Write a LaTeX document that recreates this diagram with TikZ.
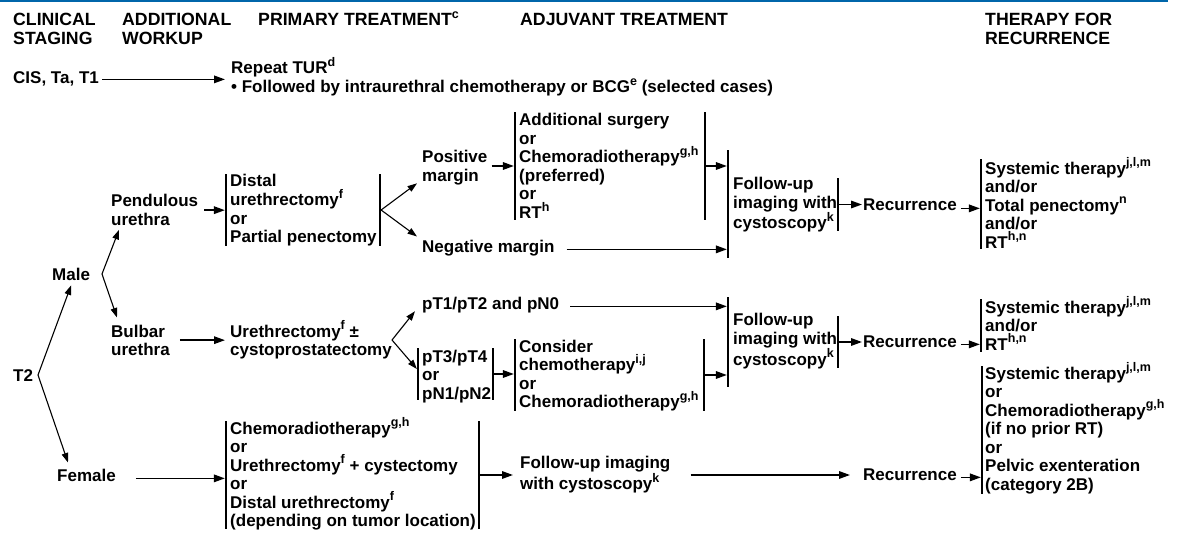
\documentclass[tikz,border=0pt]{standalone}
\usepackage{fontspec}
\setmainfont{Liberation Sans}
\usetikzlibrary{arrows.meta,calc}
\definecolor{nccnblue}{RGB}{0,102,170}
\newcommand\su[1]{\raisebox{0.42em}{\fontsize{12.5}{12.5}\selectfont #1}}
\begin{document}
\begin{tikzpicture}[x=1pt,y=-1pt,
  txt/.style={anchor=base west, inner sep=0pt, align=left, font=\bfseries\fontsize{17}{18.5}\selectfont},
  hdr/.style={anchor=base west, inner sep=0pt, align=left, font=\bfseries\fontsize{17.7}{19}\selectfont},
  brk/.style={fill=black, minimum width=2.2pt, minimum height=#1, inner sep=0pt, outer sep=0pt},
  arr/.style={line width=1.6pt, -{Triangle[length=11pt,width=7.5pt]}},
  darr/.style={line width=1.1pt, -{Triangle[length=9.5pt,width=6.5pt]}},
]
\useasboundingbox (0,0) rectangle (1180,540);
\fill[white] (0,0) rectangle (1180,540);
\draw[nccnblue, line width=2pt] (0,1) -- (1168,1);

% headers (anchor = baseline of last line)
\node[hdr] (h1) at (13,45) {CLINICAL\\STAGING};
\node[hdr] (h2) at (122,45) {ADDITIONAL\\WORKUP};
\node[hdr] (h3) at (258,26) {PRIMARY TREATMENT\su{c}};
\node[hdr] (h4) at (520,26) {ADJUVANT TREATMENT};
\node[hdr] (h5) at (985,45) {THERAPY FOR\\RECURRENCE};

% row 1
\node[txt] (cis) at (13,84) {CIS, Ta, T1};
\node[txt] (rep) at (231,92.5) {Repeat TUR\su{d}\\• Followed by intraurethral chemotherapy or BCG\su{e} (selected cases)};

% stage nodes
\node[txt] (t2) at (13,381) {T2};
\node[txt] (male) at (52,280) {Male};
\node[txt] (fem) at (57,481) {Female};
\node[txt] (pend) at (111,225.5) {Pendulous\\urethra};
\node[txt] (bulb) at (111,355.5) {Bulbar\\urethra};

% pendulous branch
\node[txt] (dist) at (230,242.5) {Distal\\urethrectomy\su{f}\\or\\Partial penectomy};
\node[brk=72] (b1) at (226,210) {};
\node[brk=72] (b2) at (380,210) {};
\node[txt] (pos) at (422,181.5) {Positive\\margin};
\node[txt] (neg) at (422,252) {Negative margin};
\node[txt] (add) at (519,218.5) {Additional surgery\\or\\Chemoradiotherapy\su{g,h}\\(preferred)\\or\\RT\su{h}};
\node[brk=108] (b3) at (515,166) {};
\node[brk=108] (b4) at (705,166) {};
\node[txt] (fu1) at (733,229) {Follow-up\\imaging with\\cystoscopy\su{k}};
\node[brk=108] (b5) at (728,204) {};
\node[brk=53] (b6) at (838,204.5) {};
\node[txt] (rec1) at (863,211) {Recurrence};
\node[txt] (th1) at (985,248) {Systemic therapy\su{j,l,m}\\and/or\\Total penectomy\su{n}\\and/or\\RT\su{h,n}};
\node[brk=90] (b7) at (981,204) {};

% bulbar branch
\node[txt] (ure) at (230,355.5) {Urethrectomy\su{f} ±\\cystoprostatectomy};
\node[txt] (pt1) at (422,309) {pT1/pT2 and pN0};
\node[txt] (pt3) at (422,399) {pT3/pT4\\or\\pN1/pN2};
\node[brk=52] (b8) at (418,374) {};
\node[brk=52] (b9) at (493,374) {};
\node[txt] (con) at (519,407.5) {Consider\\chemotherapy\su{i,j}\\or\\Chemoradiotherapy\su{g,h}};
\node[brk=72] (b10) at (515,375) {};
\node[brk=72] (b11) at (704,375) {};
\node[txt] (fu2) at (733,365) {Follow-up\\imaging with\\cystoscopy\su{k}};
\node[brk=90] (b12) at (728,342) {};
\node[brk=52] (b13) at (838,342) {};
\node[txt] (rec2) at (863,347) {Recurrence};
\node[txt] (th2) at (985,350) {Systemic therapy\su{j,l,m}\\and/or\\RT\su{h,n}};
\node[brk=53] (b14) at (981,325.5) {};

% female branch
\node[txt] (ftx) at (230,526.5) {Chemoradiotherapy\su{g,h}\\or\\Urethrectomy\su{f} + cystectomy\\or\\Distal urethrectomy\su{f}\\(depending on tumor location)};
\node[brk=108] (b15) at (226,475) {};
\node[brk=108] (b16) at (479,475) {};
\node[txt] (fu3) at (520,489.5) {Follow-up imaging\\with cystoscopy\su{k}};
\node[txt] (rec3) at (863,480) {Recurrence};
\node[txt] (th3) at (985,490) {Systemic therapy\su{j,l,m}\\or\\Chemoradiotherapy\su{g,h}\\(if no prior RT)\\or\\Pelvic exenteration\\(category 2B)};
\node[brk=128] (b17) at (982,430) {};

% branch points
\coordinate (bt2) at (38,375);
\coordinate (bmale) at (102,274);
\coordinate (bure) at (392,340);

% connectors
\draw[arr, shorten >=6pt] ($(cis.east)+(3,0)$) -- (cis.east -| rep.west);

\draw[darr] (bt2) -- ($(male.south)+(0,5)$);
\draw[darr] (bt2) -- ($(fem.north west)+(11,-6)$);
\draw[darr] (bmale) -- ($(pend.south west)+(8,4)$);
\draw[darr] (bmale) -- ($(bulb.north west)+(6,-7)$);

\draw[arr] ($(pend.east)+(6,0)$) -- (pend.east -| b1.west);
\draw[darr] (b2.east) -- ($(pos.south west)+(-5,-2)$);
\draw[darr] (b2.east) -- ($(neg.north west)+(-5,-3)$);
\draw[arr] ($(pos.east |- b3.west)+(4,0)$) -- (b3.west);
\draw[arr] (b4.east) -- (b4.east -| b5.west);
\draw[arr] ($(neg.mid east)+(12,0)$) -- (neg.mid east -| b5.west);
\draw[arr, shorten >=1pt] (b6.east) -- (b6.east -| rec1.west);
\draw[arr] ($(rec1.mid east)+(4,0)$) -- (rec1.mid east -| b7.west);

\draw[arr, shorten >=5pt] ($(bulb.east)+(10,0)$) -- (bulb.east -| ure.west);
\draw[darr] (bure) -- ($(pt1.south west)+(-7,-1.5)$);
\draw[darr] (bure) -- ($(b8.west)+(0,-5)$);
\draw[arr] ($(pt1.mid east)+(11,0)$) -- (pt1.mid east -| b12.west);
\draw[arr] (b9.east) -- (b9.east -| b10.west);
\draw[arr] (b11.east) -- (b11.east -| b12.west);
\draw[arr, shorten >=1pt] (b13.east) -- (b13.east -| rec2.west);
\draw[arr] ($(rec2.mid east)+(4,0)$) -- (rec2.mid east -| b14.west);

\draw[arr] ($(fem.mid east)+(20,0)$) -- (fem.mid east -| b15.west);
\draw[arr, shorten >=7pt] (b16.east) -- (b16.east -| fu3.west);
\draw[arr, shorten >=13pt] ($(fu3.east |- b16.east)+(20,0)$) -- (b16.east -| rec3.west);
\draw[arr] ($(rec3.mid east)+(4,0)$) -- (rec3.mid east -| b17.west);
\end{tikzpicture}
\end{document}
